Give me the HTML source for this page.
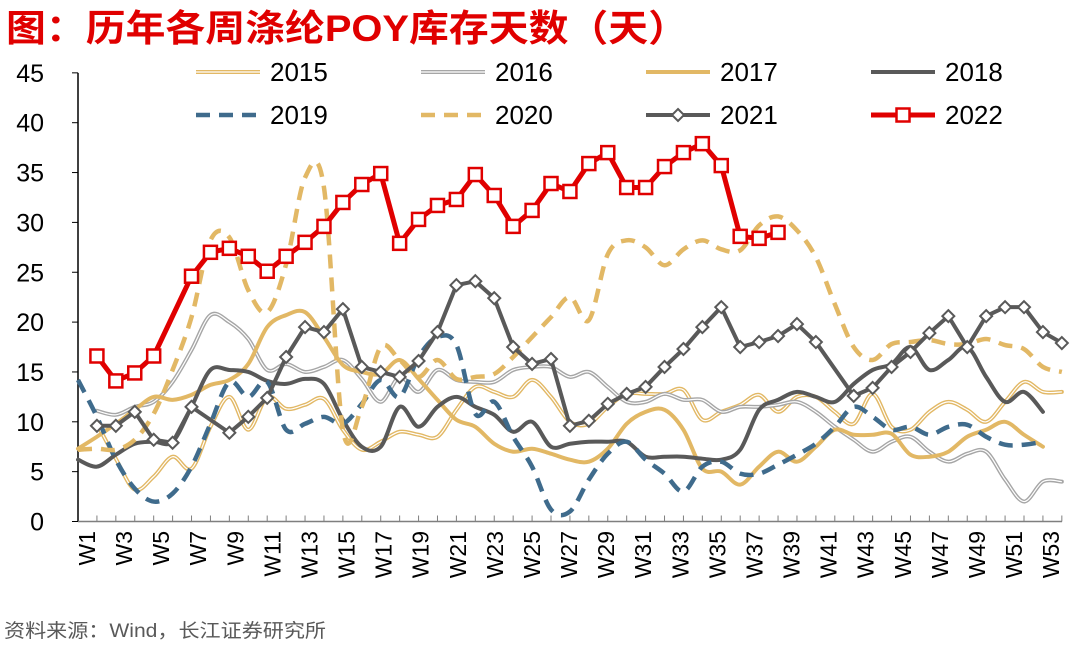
<!DOCTYPE html>
<html><head><meta charset="utf-8"><style>
body{margin:0;background:#fff;}
svg text{font-family:"Liberation Sans","Noto Sans CJK SC",sans-serif;}
</style></head><body>
<svg id="chart" width="1080" height="644" viewBox="0 0 1080 644" xmlns="http://www.w3.org/2000/svg">
<text x="6" y="41" font-size="37" font-weight="bold" fill="#e00000" textLength="682" lengthAdjust="spacingAndGlyphs">图：历年各周涤纶POY库存天数（天）</text>
<text x="4" y="637" font-size="19" fill="#595959" textLength="322" lengthAdjust="spacingAndGlyphs">资料来源：Wind，长江证券研究所</text>
<g id="axes"></g><g id="series"></g><g id="legend"></g>
</svg>
<script>
const weekLabels=["W1","W3","W5","W7","W9","W11","W13","W15","W17","W19","W21","W23","W25","W27","W29","W31","W33","W35","W37","W39","W41","W43","W45","W47","W49","W51","W53"];
const yTicks=[0,5,10,15,20,25,30,35,40,45];
const years=["2015","2016","2017","2018","2019","2020","2021","2022"];
const s2015=[null,9.8,6.3,3.2,4.5,6.5,5.3,9.5,12.5,9.2,12.5,11.3,11.7,12.3,9.2,7.2,8.0,9.0,8.7,8.5,11.2,13.5,13.0,12.5,14.2,12.5,10.0,9.8,11.5,12.8,12.8,12.8,13.2,10.2,11.0,11.7,12.7,11.0,12.5,12.5,11.0,9.8,12.8,9.5,9.2,11.0,12.0,11.2,10.0,12.0,14.0,13.0,13.0];
const s2016=[null,11.1,10.7,11.5,12.0,14.0,17.2,20.7,20.0,18.3,15.2,15.8,15.0,15.5,16.2,14.3,12.0,14.5,13.0,15.2,14.2,14.0,14.0,15.2,15.5,15.5,14.5,15.0,13.5,12.0,12.0,12.8,12.2,12.2,11.0,11.5,11.5,11.7,12.0,11.0,9.5,8.2,7.0,8.0,8.5,7.0,6.0,6.8,7.0,4.2,2.0,4.0,4.0];
const s2017=[7.3,8.5,9.8,11.2,12.5,12.2,12.7,13.7,14.2,15.8,19.5,20.7,21.0,18.5,15.7,15.0,14.8,16.2,14.3,12.2,10.2,9.5,7.8,7.0,7.3,6.8,6.2,6.0,7.3,9.8,11.0,11.2,9.2,5.3,5.0,3.7,5.5,7.0,6.0,7.5,9.2,8.7,8.7,8.8,6.7,6.5,7.0,8.5,9.2,10.0,8.7,7.5,null];
const s2018=[6.2,5.5,6.7,7.8,8.0,8.0,11.5,15.2,15.2,15.0,14.1,13.8,14.3,13.8,10.2,7.5,7.5,11.5,9.5,11.5,12.5,11.5,10.7,9.0,10.0,7.5,7.8,8.0,8.0,8.0,6.5,6.5,6.5,6.3,6.2,7.2,11.2,12.2,13.0,12.5,12.0,13.8,15.2,15.8,17.5,15.2,16.2,17.5,14.5,12.0,13.0,11.0,null];
const s2019=[14.2,10.5,6.2,3.3,2.0,2.8,5.5,9.8,14.0,12.5,14.0,9.2,9.8,10.5,9.8,11.8,14.2,12.5,16.5,18.5,17.7,10.8,12.0,8.5,5.5,1.2,1.0,4.2,6.8,8.0,6.2,4.8,3.0,5.5,6.0,4.8,4.8,5.7,6.7,7.8,9.5,11.5,10.5,9.2,9.5,8.7,9.5,9.7,8.5,7.7,7.7,8.0,null];
const s2020=[7.2,7.3,7.2,8.2,10.8,15.2,20.5,28.2,28.5,23.2,21.0,25.8,34.5,33.5,9.2,11.5,17.5,16.2,14.5,16.2,14.3,14.5,14.8,16.5,18.5,20.5,22.5,20.2,26.8,28.2,27.5,25.7,27.3,28.2,27.3,27.2,29.7,30.6,29.2,26.5,21.8,17.5,16.2,17.8,18.0,18.2,17.8,17.8,18.3,17.7,17.3,15.5,15.0];
const s2021=[null,9.6,9.6,11.0,8.2,7.9,11.5,null,8.9,10.5,12.4,16.5,19.5,19.0,21.3,15.5,15.0,14.5,16.1,19.0,23.7,24.1,22.4,17.5,15.8,16.3,9.6,10.1,11.8,12.8,13.5,15.5,17.3,19.5,21.5,17.5,18.0,18.6,19.8,18.0,null,12.6,13.4,15.5,17.0,18.9,20.6,17.5,20.6,21.5,21.5,19.0,17.9];
const s2022=[null,16.6,14.1,14.9,16.6,null,24.6,27.0,27.4,26.6,25.1,26.6,28.0,29.6,32.0,33.8,34.9,27.9,30.3,31.7,32.3,34.8,32.7,29.6,31.2,33.9,33.1,35.9,37.0,33.5,33.5,35.6,37.0,37.9,35.7,28.6,28.4,29.0];

const NS="http://www.w3.org/2000/svg";
const X0=78,X1=1062,STEP=18.92,Y0=521.5,YPU=9.97;
function xAt(i){return X0+STEP*i;}
function yAt(v){return Y0-v*YPU;}
function mk(tag,attrs,parent){const e=document.createElementNS(NS,tag);for(const k in attrs)e.setAttribute(k,attrs[k]);parent.appendChild(e);return e;}
const axes=document.getElementById('axes'),series=document.getElementById('series'),legend=document.getElementById('legend');

const yAxis=mk('line',{x1:X0,y1:yAt(45),x2:X0,y2:Y0,stroke:'#000','stroke-width':1.5},axes);


const xAxis=mk('line',{x1:X0,y1:Y0,x2:X1,y2:Y0,stroke:'#7f7f7f','stroke-width':1.5},axes);


yTicks.forEach(v=>{
  const t=mk('line',{x1:X0-6,y1:yAt(v),x2:X0,y2:yAt(v),stroke:'#000','stroke-width':1},axes);
  
  
  const l=mk('text',{x:44,y:yAt(v)+9,'font-size':25,'text-anchor':'end',fill:'#000'},axes);
  l.textContent=v;
  
  
});
for(let i=1;i<=52;i++){
  const t=mk('line',{x1:xAt(i),y1:Y0,x2:xAt(i),y2:Y0-6,stroke:'#7f7f7f','stroke-width':1},axes);
  
  
}
weekLabels.forEach((w,j)=>{
  const cx=88+37.08*j;
  const l=mk('text',{x:0,y:0,'font-size':23,'text-anchor':'end',fill:'#000',transform:`translate(${cx+7},531) rotate(-90)`},axes);
  l.textContent=w;
  
  
});

function pts(arr){const p=[];arr.forEach((v,i)=>{if(v!==null&&v!==undefined)p.push([xAt(i),yAt(v)]);});return p;}
function smoothPath(p){
  if(!p.length)return '';
  let d=`M${p[0][0]},${p[0][1]}`;
  for(let i=0;i<p.length-1;i++){
    const a=p[Math.max(0,i-1)],b=p[i],c=p[i+1],e=p[Math.min(p.length-1,i+2)];
    const t=0.5/3;
    d+=` C${b[0]+(c[0]-a[0])*t},${b[1]+(c[1]-a[1])*t} ${c[0]-(e[0]-b[0])*t},${c[1]-(e[1]-b[1])*t} ${c[0]},${c[1]}`;
  }
  return d;
}
function straightPath(p){return p.map((q,i)=>(i?'L':'M')+q[0]+','+q[1]).join(' ');}

const styles={
 "2015":{c:'#e2b865',w:4,dbl:true},
 "2016":{c:'#a6a6a6',w:4,dbl:true},
 "2017":{c:'#e2b865',w:4},
 "2018":{c:'#595959',w:4},
 "2019":{c:'#3f6b8c',w:4.5,dash:'14 9'},
 "2020":{c:'#e2b865',w:4.5,dash:'14 9'},
 "2021":{c:'#595959',w:4,marker:'diamond'},
 "2022":{c:'#e00000',w:5,marker:'square'}
};
const data={"2015":s2015,"2016":s2016,"2017":s2017,"2018":s2018,"2019":s2019,"2020":s2020,"2021":s2021,"2022":s2022};

function drawMarker(type,x,y,st,parent){
  let m;
  if(type==='square'){m=mk('rect',{x:x-6.5,y:y-6.5,width:13,height:13,fill:'#fff',stroke:st.c,'stroke-width':2.5},parent);}
  else{m=mk('path',{d:`M${x},${y-6} L${x+6},${y} L${x},${y+6} L${x-6},${y} Z`,fill:'#fff',stroke:st.c,'stroke-width':2},parent);}
  return m;
}

years.forEach(yr=>{
  const st=styles[yr];const arr=data[yr];
  const g=mk('g',{},series);
  
  
  const p=pts(arr);
  const d=st.marker?straightPath(p):smoothPath(p);
  const line=mk('path',{d:d,fill:'none',stroke:st.c,'stroke-width':st.w,'stroke-linejoin':'round','stroke-linecap':st.dash?'butt':'round'},g);
  if(st.dash)line.setAttribute('stroke-dasharray',st.dash);
  
  
  if(st.dbl){
    const inner=mk('path',{d:d,fill:'none',stroke:'#fff','stroke-width':1.2,'stroke-linejoin':'round'},g);
    
    
  }
  if(st.marker){
    arr.forEach((v,i)=>{
      if(v===null)return;
      const m=drawMarker(st.marker,xAt(i),yAt(v),st,g);
      
      
    });
  }
});

const legPos=[[196,72],[421,72],[646,72],[871,72],[196,115],[421,115],[646,115],[871,115]];
years.forEach((yr,i)=>{
  const st=styles[yr];const [lx,ly]=legPos[i];
  const g=mk('g',{},legend);
  
  
  const l=mk('line',{x1:lx,y1:ly,x2:lx+64,y2:ly,stroke:st.c,'stroke-width':st.w},g);
  if(st.dash)l.setAttribute('stroke-dasharray',st.dash);
  
  
  if(st.dbl){const w=mk('line',{x1:lx,y1:ly,x2:lx+64,y2:ly,stroke:'#fff','stroke-width':1.2},g);
    
    }
  if(st.marker){const m=drawMarker(st.marker,lx+32,ly,st,g);
    
    }
  const t=mk('text',{x:lx+74,y:ly+9,'font-size':26,fill:'#000'},g);
  t.textContent=yr;
  
  
});
</script>
</body></html>
